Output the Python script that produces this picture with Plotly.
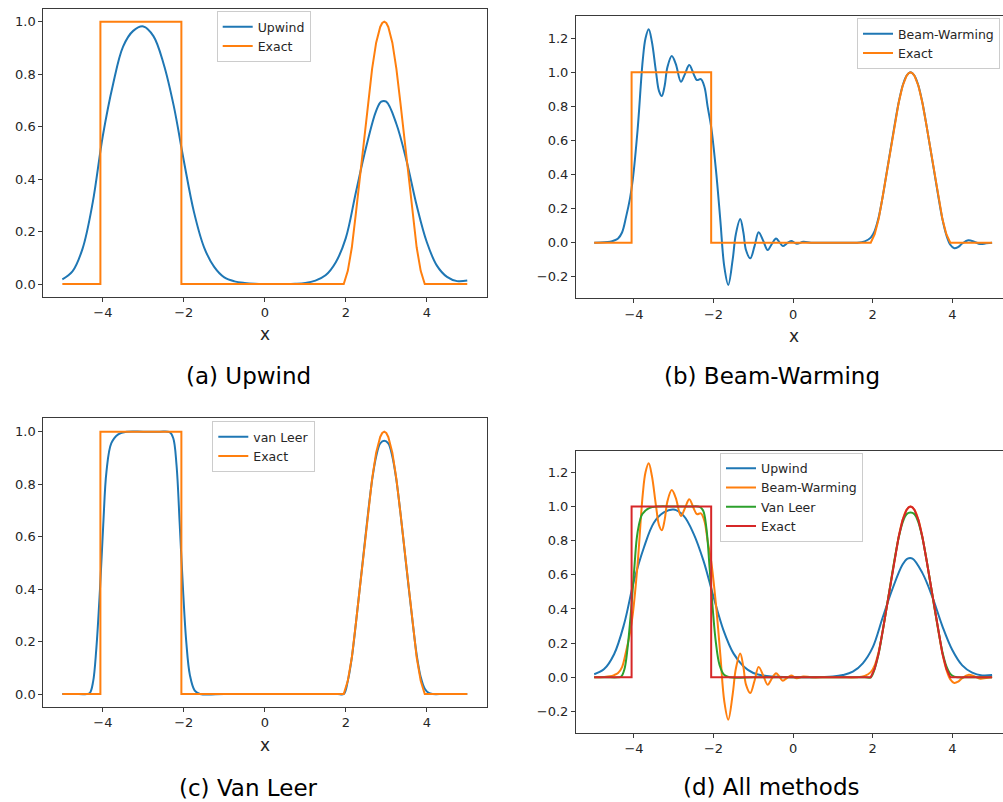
import plotly.graph_objects as go

# ---------------- data ----------------
upwind_x = [-5.0, -4.75, -4.5, -4.25, -4.0, -3.75, -3.5, -3.25, -3.0, -2.75, -2.5, -2.25,
            -2.0, -1.75, -1.5, -1.25, -1.0, -0.75, -0.5, -0.25, 0.0, 0.25, 0.5, 0.75,
            1.0, 1.25, 1.5, 1.75, 2.0, 2.25, 2.5, 2.75, 2.875, 3.0, 3.25, 3.5, 3.75, 4.0,
            4.25, 4.5, 4.75, 5.0]
upwind_y = [0.018, 0.048, 0.135, 0.31, 0.565, 0.76, 0.905, 0.965, 0.982, 0.945, 0.84, 0.68,
            0.47, 0.275, 0.14, 0.065, 0.025, 0.01, 0.004, 0.001, 0.0, 0.0, 0.0, 0.001,
            0.004, 0.013, 0.033, 0.082, 0.175, 0.35, 0.52, 0.66, 0.695, 0.695, 0.61, 0.47, 0.30,
            0.16, 0.07, 0.027, 0.011, 0.013]

exact_x = [-5.0, -4.06, -4.06, -2.06, -2.06, 1.95, 2.05, 2.15, 2.25, 2.35, 2.45, 2.55, 2.65,
           2.75, 2.85, 2.9, 2.95, 3.0, 3.05, 3.15, 3.25, 3.35, 3.45, 3.55, 3.65, 3.75, 3.85,
           3.95, 5.0]
exact_y = [0.0, 0.0, 1.0, 1.0, 0.0, 0.0, 0.05, 0.14, 0.27, 0.41, 0.55, 0.69, 0.82,
           0.92, 0.98, 0.995, 1.0, 0.995, 0.98, 0.92, 0.82, 0.69, 0.55, 0.41, 0.27, 0.14, 0.05,
           0.0, 0.0]

bw_x = [-5.0, -4.75, -4.6, -4.5, -4.4, -4.3, -4.2, -4.1, -4.03, -3.91, -3.78, -3.71, -3.63,
        -3.55, -3.45, -3.37, -3.30, -3.23, -3.16, -3.05, -2.95, -2.82, -2.72, -2.61, -2.5,
        -2.42, -2.32, -2.23, -2.15, -2.06, -1.94, -1.83, -1.73, -1.63, -1.52, -1.44, -1.33,
        -1.25, -1.185, -1.077, -0.97, -0.867, -0.75, -0.64, -0.53, -0.43, -0.35, -0.26,
        -0.15, -0.05, 0.09, 0.255, 0.45, 0.8, 1.2, 1.6, 1.8, 1.95, 2.05, 2.15, 2.25, 2.35,
        2.45, 2.55, 2.65, 2.75, 2.85, 2.95, 3.05, 3.15, 3.25, 3.35, 3.45, 3.55, 3.65, 3.75,
        3.85, 3.95, 4.05, 4.15, 4.25, 4.4, 4.55, 4.7, 4.85, 5.0]
bw_y = [0.0, 0.002, 0.006, 0.013, 0.025, 0.06, 0.15, 0.26, 0.37, 0.66, 1.07, 1.2, 1.253,
        1.18, 1.01, 0.89, 0.861, 0.92, 1.03, 1.096, 1.05, 0.945, 0.99, 1.043, 0.99,
        0.955, 0.96, 0.916, 0.80, 0.68, 0.427, 0.133, -0.141, -0.248, -0.10, 0.05, 0.139,
        0.06, -0.043, -0.092, -0.02, 0.061, 0.01, -0.043, -0.005, 0.024, 0.005, -0.02,
        -0.003, 0.01, -0.006, 0.005, 0.0, 0.0, 0.0, 0.0, 0.008, 0.03, 0.07, 0.15, 0.27, 0.41,
        0.55, 0.69, 0.82, 0.92, 0.98, 1.0, 0.98, 0.92, 0.82, 0.69, 0.55, 0.41, 0.27, 0.14,
        0.045, -0.012, -0.033, -0.025, -0.005, 0.014, 0.006, -0.008, -0.004, 0.0]

vl_x = [-5.0, -4.7, -4.4, -4.32, -4.24, -4.16, -4.07, -3.99, -3.91, -3.79, -3.62, -3.4,
        -3.0, -2.6, -2.35, -2.26, -2.18, -2.10, -2.02, -1.94, -1.85, -1.73, -1.6, -1.0,
        -0.5, 0.0, 0.5, 1.0, 1.5, 1.8, 1.95, 2.05, 2.15, 2.25, 2.35, 2.45, 2.55, 2.65, 2.75,
        2.85, 2.95, 3.05, 3.15, 3.25, 3.35, 3.45, 3.55, 3.65, 3.75, 3.85, 3.95, 4.05, 4.15,
        4.4, 4.7, 5.0]
vl_y = [0.0, 0.0, 0.0, 0.004, 0.047, 0.174, 0.40, 0.644, 0.848, 0.956, 0.99, 1.0,
        1.0, 1.0, 0.998, 0.975, 0.873, 0.644, 0.40, 0.2, 0.072, 0.013, 0.0, 0.0,
        0.0, 0.0, 0.0, 0.0, 0.0, 0.0, 0.0, 0.05, 0.14, 0.27, 0.41, 0.55, 0.69, 0.815, 0.905,
        0.955, 0.965, 0.955, 0.905, 0.815, 0.69, 0.55, 0.41, 0.275, 0.15, 0.065, 0.02, 0.004,
        0.0, 0.0, 0.0, 0.0]

x_ticks = [-4, -2, 0, 2, 4]
x_tick_text = ["\u22124", "\u22122", "0", "2", "4"]
y_ticks_ac = [0.0, 0.2, 0.4, 0.6, 0.8, 1.0]
y_ticks_bd = [-0.2, 0.0, 0.2, 0.4, 0.6, 0.8, 1.0, 1.2]

captions = ["(a) Upwind", "(b) Beam-Warming", "(c) Van Leer", "(d) All methods"]

# ---------------- styling ----------------
BLUE, ORANGE, GREEN, RED = "#1f77b4", "#ff7f0e", "#2ca02c", "#d62728"
FONT = "DejaVu Sans"
AX = "#3a3a3a"
TXT = "#262626"
W, H = 1003, 802

fig = go.Figure()


def line(x, y, name, color, xa, ya, legend, spline=True):
    fig.add_trace(go.Scatter(
        x=x, y=y, name=name, mode="lines",
        line=dict(color=color, width=2, shape="spline" if spline else "linear", smoothing=1.0),
        xaxis=xa, yaxis=ya, legend=legend, showlegend=True, hoverinfo="skip"))


line(upwind_x, upwind_y, "Upwind", BLUE, "x", "y", "legend")
line(exact_x, exact_y, "Exact", ORANGE, "x", "y", "legend", spline=False)

line(bw_x, bw_y, "Beam-Warming", BLUE, "x2", "y2", "legend2")
line(exact_x, exact_y, "Exact", ORANGE, "x2", "y2", "legend2", spline=False)

line(vl_x, vl_y, "van Leer", BLUE, "x3", "y3", "legend3")
line(exact_x, exact_y, "Exact", ORANGE, "x3", "y3", "legend3", spline=False)

line(upwind_x, upwind_y, "Upwind", BLUE, "x4", "y4", "legend4")
line(bw_x, bw_y, "Beam-Warming", ORANGE, "x4", "y4", "legend4")
line(vl_x, vl_y, "Van Leer", GREEN, "x4", "y4", "legend4")
line(exact_x, exact_y, "Exact", RED, "x4", "y4", "legend4", spline=False)


def px(v):
    return v / W


def py(v):
    return 1 - v / H


def xaxis(l, r, rng, anchor):
    return dict(domain=[px(l), px(r)], range=rng, anchor=anchor, showgrid=False,
                zeroline=False, showline=True, linecolor=AX, linewidth=1, mirror=True,
                ticks="outside", ticklen=4, tickwidth=1, tickcolor=AX,
                tickvals=x_ticks, ticktext=x_tick_text,
                tickfont=dict(family=FONT, size=13, color=TXT))


def yaxis(top, bot, rng, anchor, ticks, mirror=True):
    return dict(domain=[py(bot), py(top)], range=rng, anchor=anchor, showgrid=False,
                zeroline=False, showline=True, linecolor=AX, linewidth=1, mirror=mirror,
                ticks="outside", ticklen=4, tickwidth=1, tickcolor=AX,
                tickvals=ticks, ticktext=[f"{t:.1f}".replace("-", "\u2212") for t in ticks],
                tickfont=dict(family=FONT, size=13, color=TXT))


def legend(x, y):
    return dict(x=px(x), y=py(y), xanchor="left", yanchor="top",
                bgcolor="rgba(255,255,255,0.8)", bordercolor="#cccccc", borderwidth=1,
                font=dict(family=FONT, size=12.5, color=TXT), traceorder="normal")


annotations = []
for text, cx, cy in zip(captions, [248.5, 771.8, 248.5, 771.8], [376, 376, 787.5, 786.5]):
    annotations.append(dict(text=text, x=px(cx), y=py(cy), xref="paper", yref="paper",
                            xanchor="center", yanchor="middle", showarrow=False,
                            font=dict(family=FONT, size=23, color="black")))
for cx, cy in [(264.5, 334.5), (793.5, 336), (264.5, 744.5)]:
    annotations.append(dict(text="x", x=px(cx), y=py(cy), xref="paper", yref="paper",
                            xanchor="center", yanchor="middle", showarrow=False,
                            font=dict(family=FONT, size=17, color=TXT)))

fig.update_layout(
    width=W, height=H,
    margin=dict(l=0, r=0, t=0, b=0, autoexpand=False),
    paper_bgcolor="white", plot_bgcolor="white",
    font=dict(family=FONT, color=TXT),
    xaxis=xaxis(43.3, 486.7, [-5.47, 5.48], "y"),
    yaxis=yaxis(9, 296.7, [-0.0484, 1.0484], "x", y_ticks_ac),
    xaxis2=xaxis(576, 1003, [-5.457, 5.274], "y2"),
    yaxis2=yaxis(16, 298.3, [-0.3265, 1.331], "x2", y_ticks_bd, mirror=False),
    xaxis3=xaxis(43.3, 486.7, [-5.47, 5.48], "y3"),
    yaxis3=yaxis(418.3, 706.7, [-0.0484, 1.051], "x3", y_ticks_ac),
    xaxis4=xaxis(576, 1003, [-5.457, 5.274], "y4"),
    yaxis4=yaxis(450.7, 732.7, [-0.3244, 1.3267], "x4", y_ticks_bd, mirror=False),
    legend=legend(216.7, 11),
    legend2=legend(857, 18.2),
    legend3=legend(212.3, 421),
    legend4=legend(720, 452.5),
    annotations=annotations,
)

fig.write_html("out.html")
